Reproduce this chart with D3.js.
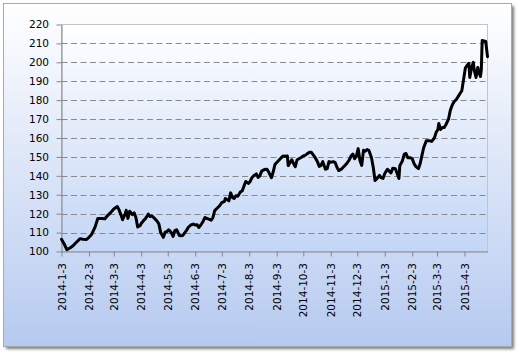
<!DOCTYPE html>
<html><head><meta charset="utf-8">
<script src="https://cdn.jsdelivr.net/npm/d3@7"></script>
<style>html,body{margin:0;padding:0;background:#fff;}svg{display:block}</style>
</head><body>
<script>
const dates = [
"2014-01-03","2014-01-06","2014-01-09","2014-01-13","2014-01-16","2014-01-19","2014-01-24","2014-01-27","2014-01-31","2014-02-03",
"2014-02-06","2014-02-10","2014-02-13","2014-02-17","2014-02-21","2014-02-24","2014-02-28","2014-03-03","2014-03-07","2014-03-09",
"2014-03-11","2014-03-13","2014-03-16","2014-03-17","2014-03-19","2014-03-21","2014-03-24","2014-03-26","2014-03-28","2014-03-30",
"2014-04-02","2014-04-03","2014-04-06","2014-04-08","2014-04-11","2014-04-13","2014-04-15","2014-04-18","2014-04-21","2014-04-23",
"2014-04-25","2014-04-28","2014-04-30","2014-05-02","2014-05-04","2014-05-07","2014-05-09","2014-05-11","2014-05-13","2014-05-16",
"2014-05-18","2014-05-20","2014-05-24","2014-05-26","2014-05-29","2014-06-01","2014-06-03","2014-06-05","2014-06-07","2014-06-10",
"2014-06-12","2014-06-14","2014-06-16","2014-06-19","2014-06-21","2014-06-23","2014-06-25","2014-06-28","2014-07-01","2014-07-03",
"2014-07-06","2014-07-07","2014-07-09","2014-07-11","2014-07-13","2014-07-15","2014-07-17","2014-07-19","2014-07-21","2014-07-24",
"2014-07-26","2014-07-28","2014-07-30","2014-08-02","2014-08-04","2014-08-06","2014-08-08","2014-08-11","2014-08-13","2014-08-15",
"2014-08-17","2014-08-20","2014-08-23","2014-08-25","2014-08-28","2014-08-30","2014-09-01","2014-09-03","2014-09-06","2014-09-08",
"2014-09-10","2014-09-12","2014-09-15","2014-09-16","2014-09-18","2014-09-20","2014-09-22","2014-09-24","2014-09-26","2014-09-28",
"2014-10-01","2014-10-03","2014-10-05","2014-10-07","2014-10-10","2014-10-12","2014-10-14","2014-10-16","2014-10-19","2014-10-21",
"2014-10-23","2014-10-25","2014-10-28","2014-10-30","2014-11-01","2014-11-03","2014-11-06","2014-11-08","2014-11-10","2014-11-12",
"2014-11-15","2014-11-17","2014-11-19","2014-11-21","2014-11-24","2014-11-26","2014-11-28","2014-11-30","2014-12-02","2014-12-04",
"2014-12-06","2014-12-08","2014-12-10","2014-12-12","2014-12-14","2014-12-16","2014-12-19","2014-12-21","2014-12-23","2014-12-25",
"2014-12-28","2014-12-30","2015-01-01","2015-01-03","2015-01-06","2015-01-08","2015-01-10","2015-01-12","2015-01-15","2015-01-17",
"2015-01-19","2015-01-20","2015-01-23","2015-01-25","2015-01-27","2015-01-29","2015-02-01","2015-02-03","2015-02-05","2015-02-07",
"2015-02-10","2015-02-12","2015-02-14","2015-02-16","2015-02-19","2015-02-21","2015-02-23","2015-02-25","2015-02-28","2015-03-02",
"2015-03-04","2015-03-05","2015-03-07","2015-03-09","2015-03-11","2015-03-13","2015-03-16","2015-03-18","2015-03-20","2015-03-22",
"2015-03-25","2015-03-27","2015-03-29","2015-03-31","2015-04-02","2015-04-04","2015-04-06","2015-04-08","2015-04-09","2015-04-11",
"2015-04-13","2015-04-14","2015-04-16","2015-04-18","2015-04-21","2015-04-22","2015-04-23","2015-04-25","2015-04-27","2015-04-29"
];
const values = [
106.5,104,101,102,103,104.5,106.8,106.5,106.3,107.5,
109,113,117.5,117.5,117.3,119,120.8,122.5,123.8,122,
119.5,116.8,120,121.8,117.5,121.3,119.5,120.5,118,113,
113.8,114.8,116.5,117.5,119.8,118.5,118.8,117.5,116,114.5,
110,107.5,110.2,110.5,111.5,110,108,111,111.5,108.5,
108.3,108.5,111,112.7,114,114.5,114,114.2,112.7,114.5,
116,118,117.5,117,116.5,118,121.6,123,124.5,125.8,
126.5,128,127.5,126.8,131,128.5,128,129.5,129.2,131.5,
132,134.5,137,136,137,139,140,141,139.2,140,
142.5,143.3,143.5,142,139,142,146,147,148.5,149.5,
150.5,150.3,150.5,145.4,147,148.5,146.5,144.8,148.5,149,
149.8,150.5,150.8,151.5,152.5,152.5,151.2,150,147.5,145,
145.5,147.5,143.5,143.8,147.5,147.2,147.5,147,144.5,142.8,
143.5,144.5,145.5,146.5,148.5,150.5,151.5,149,150.5,154.4,
148,145.5,153.5,153,153.9,153.5,149.6,144.5,137.5,138.5,
140.2,139,138.6,141.2,143.5,142.5,141.5,144,143.8,141.2,
138.6,145.4,148,151.5,151.8,149.6,149.6,149,146.5,145,
143.8,146.5,150.8,155,158.6,158.6,158.5,158.2,160,163,
164.5,167.7,164.5,165.5,165.5,167,170,174.6,177.2,179,
180.5,182,183.5,185,191,197,198.5,199.5,192,197,
200,196,192,197.3,192.5,196,211.5,211.3,211,203
];
const xTickLabels = ["2014-1-3","2014-2-3","2014-3-3","2014-4-3","2014-5-3","2014-6-3","2014-7-3","2014-8-3",
  "2014-9-3","2014-10-3","2014-11-3","2014-12-3","2015-1-3","2015-2-3","2015-3-3","2015-4-3"];
const yTicks = [100,110,120,130,140,150,160,170,180,190,200,210,220];

const W = 520, H = 356;
const L = 61.5, R = 487.5, T = 24.5, B = 251.5;
const parse = d3.timeParse("%Y-%m-%d");
const parseTick = d3.timeParse("%Y-%-m-%-d");
const data = dates.map((d, i) => ({date: parse(d), value: values[i]}));

const svg = d3.select("body").append("svg").attr("width", W).attr("height", H);
const defs = svg.append("defs");
const g1 = defs.append("linearGradient").attr("id","outerGrad").attr("x1",0).attr("y1",0).attr("x2",0).attr("y2",1);
g1.append("stop").attr("offset","0%").attr("stop-color","#ffffff");
g1.append("stop").attr("offset","100%").attr("stop-color","#b6caf0");
const g2 = defs.append("linearGradient").attr("id","plotGrad").attr("x1",0).attr("y1",0).attr("x2",0).attr("y2",1);
g2.append("stop").attr("offset","0%").attr("stop-color","#ffffff");
g2.append("stop").attr("offset","100%").attr("stop-color","#c3d6f6");
const f = defs.append("filter").attr("id","shadow").attr("x","-5%").attr("y","-5%").attr("width","110%").attr("height","110%");
f.append("feGaussianBlur").attr("stdDeviation",1.5);

// outer chart area
svg.append("rect").attr("x",6).attr("y",6).attr("width",508).attr("height",343)
  .attr("fill","#7a7a7a").attr("filter","url(#shadow)");
svg.append("rect").attr("x",3.5).attr("y",3.5).attr("width",508).attr("height",343)
  .attr("fill","url(#outerGrad)").attr("stroke","#a8a8a8").attr("stroke-width",1);

// plot area
svg.append("rect").attr("x",L).attr("y",T).attr("width",R-L).attr("height",B-T)
  .attr("fill","url(#plotGrad)").attr("stroke","#c4c4c4").attr("stroke-width",1);

const x = d3.scaleTime().domain(d3.extent(data, d => d.date)).range([L, R]);
const y = d3.scaleLinear().domain([100, 220]).range([B, T]);

// gridlines
svg.append("g").selectAll("line").data(yTicks.filter(v => v > 100 && v < 220)).join("line")
  .attr("x1", L).attr("x2", R).attr("y1", d => Math.round(y(d)) + 0.5).attr("y2", d => Math.round(y(d)) + 0.5)
  .attr("stroke","#8a8a8a").attr("stroke-width",1).attr("stroke-dasharray","6,3.5");

// y axis
const yAxis = svg.append("g").attr("transform",`translate(${L},0)`)
  .call(d3.axisLeft(y).tickValues(yTicks).tickSize(5).tickPadding(7.5).tickSizeOuter(0));
yAxis.select(".domain").attr("stroke","#868686");
yAxis.selectAll(".tick line").attr("stroke","#868686");
yAxis.selectAll("text").attr("fill","#000").style("font-family","'DejaVu Sans', sans-serif").style("font-size","10.5px");

// x axis
const tickDates = xTickLabels.map(parseTick);
const xAxis = svg.append("g").attr("transform",`translate(0,${B})`)
  .call(d3.axisBottom(x).tickValues(tickDates).tickFormat((d, i) => xTickLabels[i]).tickSize(5).tickSizeOuter(0));
xAxis.select(".domain").attr("stroke","#868686");
xAxis.selectAll(".tick line").attr("stroke","#868686");
xAxis.selectAll("text").attr("fill","#000")
  .style("font-family","'DejaVu Sans', sans-serif").style("font-size","10.5px")
  .attr("transform","rotate(-90)").attr("x",-11.5).attr("y",0).attr("dy","0.35em")
  .style("text-anchor","end");

// line
const line = d3.line().x(d => x(d.date)).y(d => y(d.value));
svg.append("path").datum(data).attr("d", line)
  .attr("fill","none").attr("stroke","#000").attr("stroke-width",3)
  .attr("stroke-linejoin","round").attr("stroke-linecap","round");
</script>
</body></html>
